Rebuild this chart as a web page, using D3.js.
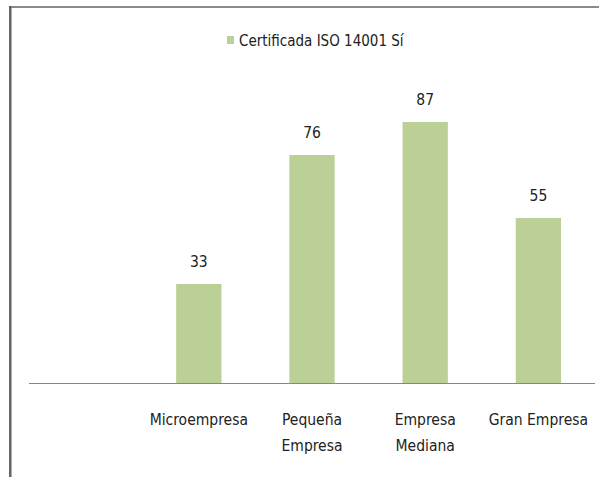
<!DOCTYPE html>
<html>
<head>
<meta charset="utf-8">
<script src="https://cdn.jsdelivr.net/npm/d3@7"></script>
<style>
  html, body { margin: 0; padding: 0; background: #fff; }
  svg { display: block; }
  text { font-family: "DejaVu Sans Condensed", "Liberation Sans", sans-serif; fill: #222; }
</style>
</head>
<body>
<svg id="chart" width="599" height="477"></svg>
<script>
// datos
var categories = ["", "Microempresa", "Pequeña Empresa", "Empresa Mediana", "Gran Empresa"];
var tickLines = [[""], ["Microempresa"], ["Pequeña", "Empresa"], ["Empresa", "Mediana"], ["Gran Empresa"]];
var values = [null, 33, 76, 87, 55];
var seriesName = "Certificada ISO 14001 Sí";

var svg = d3.select("#chart");
var W = 599, H = 477;
var base = 383, plotL = 29, plotR = 595;
var green = "#bbd096";
var fs = 15.5;

// marco (bordes superior e izquierdo)
svg.append("line").attr("x1", 10).attr("x2", W).attr("y1", 7).attr("y2", 7).attr("stroke", "#8a8a8a").attr("stroke-width", 2);
svg.append("line").attr("x1", 10).attr("x2", 10).attr("y1", 6).attr("y2", H).attr("stroke", "#333").attr("stroke-width", 1.5);
svg.append("line").attr("x1", 11.5).attr("x2", 11.5).attr("y1", 8).attr("y2", H).attr("stroke", "#aaa").attr("stroke-width", 1);

var x = d3.scaleBand().domain(categories).range([plotL, plotR]).paddingInner(0.6).paddingOuter(0.3);
var y = d3.scaleLinear().domain([0, 100]).range([base, base - 300]);

var data = categories.map(function (c, i) { return { cat: c, v: values[i], lines: tickLines[i] }; });
var withVal = data.filter(function (d) { return d.v != null; });

svg.append("g").selectAll("rect").data(withVal).enter().append("rect")
  .attr("x", function (d) { return x(d.cat); })
  .attr("y", function (d) { return y(d.v); })
  .attr("width", x.bandwidth())
  .attr("height", function (d) { return base - y(d.v); })
  .attr("fill", green);

svg.append("g").selectAll("text").data(withVal).enter().append("text")
  .attr("x", function (d) { return x(d.cat) + x.bandwidth() / 2; })
  .attr("y", function (d) { return y(d.v) - 17; })
  .attr("text-anchor", "middle").attr("font-size", fs)
  .text(function (d) { return d.v; });

// eje X
var ax = svg.append("g").attr("transform", "translate(0," + base + ")")
  .call(d3.axisBottom(x).tickSize(0).tickPadding(0).tickFormat(""));
ax.select(".domain").attr("stroke", "#868686").attr("d", "M" + plotL + ",0.5H" + plotR);
ax.selectAll(".tick text").remove();
ax.selectAll(".tick").each(function (c, i) {
  var t = d3.select(this).append("text").attr("text-anchor", "middle").attr("font-size", fs).attr("fill", "#222");
  tickLines[i].forEach(function (ln, k) {
    t.append("tspan").attr("x", 0).attr("y", 42 + k * 26).text(ln);
  });
});

// leyenda
var lg = svg.append("g");
lg.append("rect").attr("x", 227).attr("y", 36).attr("width", 7).attr("height", 8).attr("fill", green);
lg.append("text").attr("x", 239).attr("y", 46).attr("font-size", 15).text(seriesName);
</script>
</body>
</html>
